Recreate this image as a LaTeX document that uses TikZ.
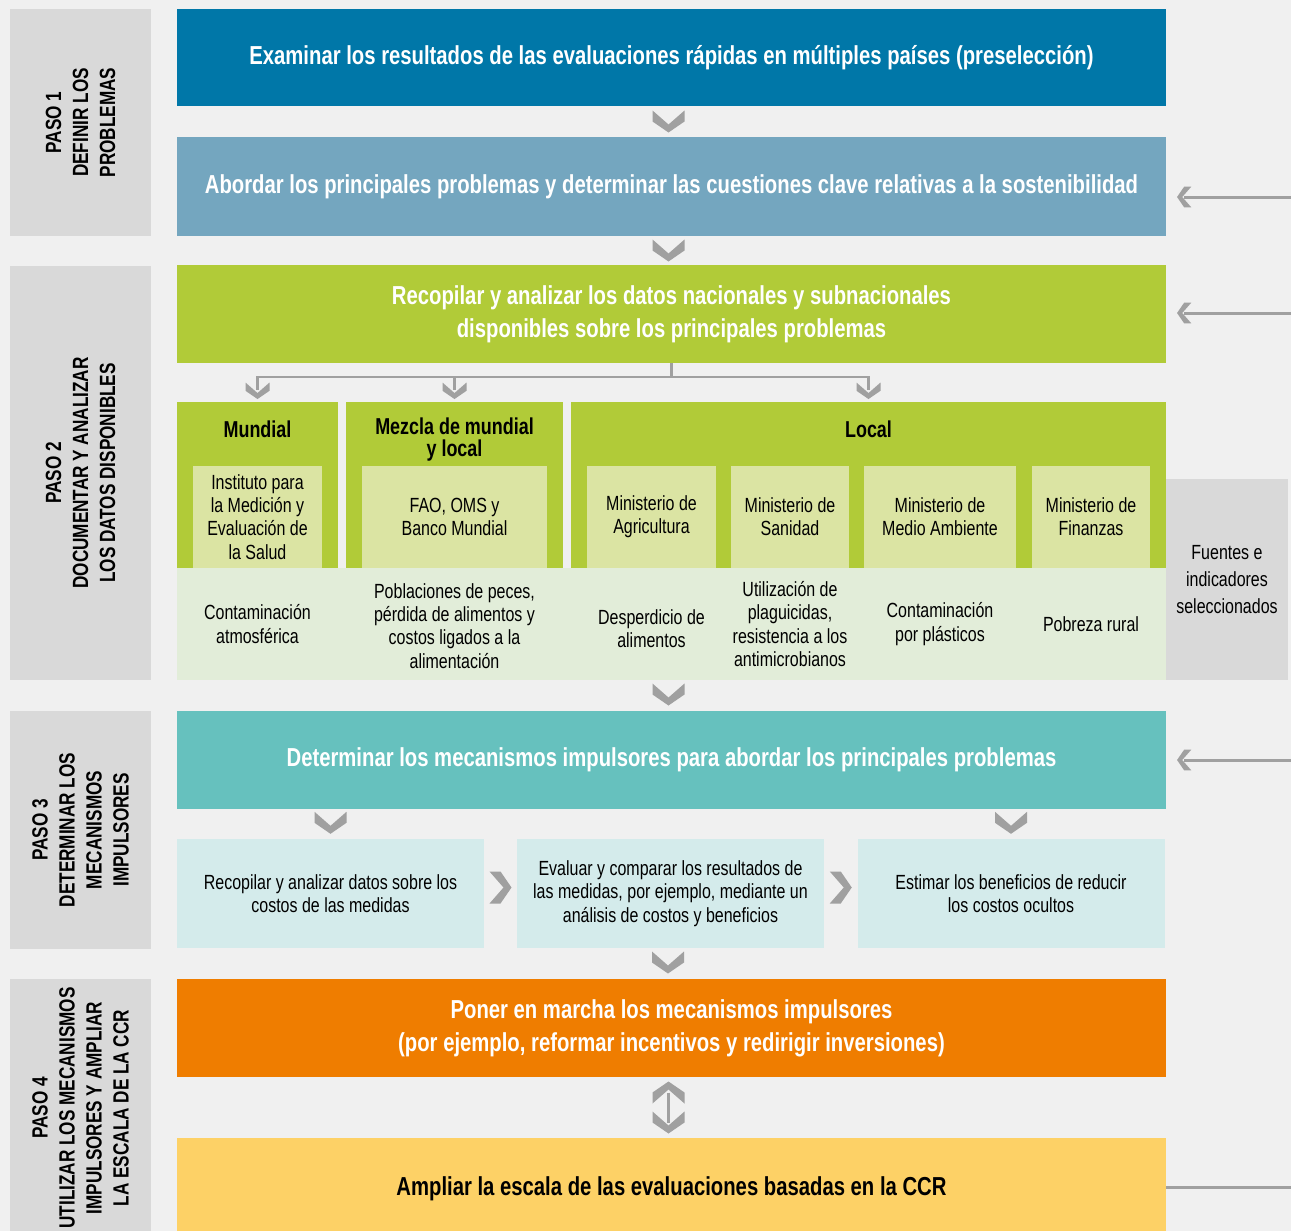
\documentclass[tikz,border=0pt]{standalone}
\usepackage{fontspec}
\setmainfont[FakeStretch=0.78]{Liberation Sans}
\usetikzlibrary{calc}

\definecolor{bggray}{HTML}{F0F0F0}
\definecolor{stepgray}{HTML}{D9D9D9}
\definecolor{chevgray}{HTML}{A0A0A0}
\definecolor{blueA}{HTML}{0077A8}
\definecolor{blueB}{HTML}{74A6BF}
\definecolor{greenA}{HTML}{B1CB38}
\definecolor{greenB}{HTML}{DBE4A3}
\definecolor{greenC}{HTML}{E2EDD9}
\definecolor{tealA}{HTML}{66C1BE}
\definecolor{tealB}{HTML}{D4EBEB}
\definecolor{orangeA}{HTML}{EF7D00}
\definecolor{yellowA}{HTML}{FDD166}

\newcommand\ttlfnt{\bfseries\fontsize{26}{33}\selectfont}
\newcommand\headfnt{\bfseries\fontsize{23}{22}\selectfont}
\newcommand\bodyfnt{\fontsize{20.5}{23.3}\selectfont}
\newcommand\srcfnt{\fontsize{20.5}{27}\selectfont}
\newcommand\stepfnt{\bfseries\fontsize{22}{27}\selectfont}

\tikzset{
  mainbox/.style={minimum width=989pt, minimum height=98pt, inner sep=0pt,
    text=white, font=\ttlfnt, align=center},
  stepbox/.style={fill=stepgray, minimum width=141pt, inner sep=0pt},
  steptext/.style={rotate=90, font=\stepfnt, align=center},
  groupbox/.style={fill=greenA, minimum height=166pt, inner sep=0pt},
  srcbox/.style={fill=greenB, minimum height=102pt, inner sep=0pt, font=\bodyfnt, align=center},
  lbl/.style={font=\bodyfnt, align=center, inner sep=0pt},
  head/.style={font=\headfnt, align=center, inner sep=0pt},
  subbox/.style={fill=tealB, minimum width=307pt, minimum height=109pt, inner sep=0pt,
    font=\bodyfnt, align=center},
  chevdown/.pic={\fill[chevgray] (-16,-11) -- (0,3) -- (16,-11) -- (16,0) -- (0,11) -- (-16,0) -- cycle;},
  branch/.style={draw=chevgray, line width=2.5pt},
  fbline/.style={draw=chevgray, line width=3pt}
}

\begin{document}
\begin{tikzpicture}[x=1pt, y=-1pt]
  \fill[bggray] (0,0) rectangle (1291,1231);
  \useasboundingbox (0,0) rectangle (1291,1231);

  \node[stepbox, minimum height=227pt] (paso1) at (80.5,122.5) {};
  \node[steptext] at (paso1) {PASO 1\\DEFINIR LOS\\PROBLEMAS};
  \node[stepbox, minimum height=414pt] (paso2) at (80.5,473) {};
  \node[steptext] at (paso2) {PASO 2\\DOCUMENTAR Y ANALIZAR\\LOS DATOS DISPONIBLES};
  \node[stepbox, minimum height=238pt] (paso3) at (80.5,830) {};
  \node[steptext] at (paso3) {PASO 3\\DETERMINAR LOS\\MECANISMOS\\IMPULSORES};
  \node[stepbox, minimum height=252pt] (paso4) at (80.5,1105) {};
  \node[steptext] at (80.5,1108) {PASO 4\\UTILIZAR LOS MECANISMOS\\IMPULSORES Y AMPLIAR\\LA ESCALA DE LA CCR};

  \node[mainbox, fill=blueA, minimum height=97pt] (examinar) at (671.5,57.5)
    {Examinar los resultados de las evaluaciones rápidas en múltiples países (preselección)};
  \node[mainbox, fill=blueB, minimum height=99pt] (abordar) at (671.5,186.5)
    {Abordar los principales problemas y determinar las cuestiones clave relativas a la sostenibilidad};
  \node[mainbox, fill=greenA] (recopilar) at (671.5,314)
    {Recopilar y analizar los datos nacionales y subnacionales\\disponibles sobre los principales problemas};

  \node[groupbox, minimum width=161pt] (mundial) at (257.5,485) {};
  \node[groupbox, minimum width=217pt] (mezcla) at (454.5,485) {};
  \node[groupbox, minimum width=595pt] (local) at (868.5,485) {};
  \node[head] at (257.5,429) {Mundial};
  \node[head] at (454.5,440) {Mezcla de mundial\\y local};
  \node[head] at (868.5,429) {Local};

  \node[srcbox, minimum width=129pt] (ihme) at (257.5,517) {Instituto para\\la Medición y\\Evaluación de\\la Salud};
  \node[srcbox, minimum width=185pt] (fao) at (454.5,517) {FAO, OMS y\\Banco Mundial};
  \node[srcbox, minimum width=129pt] (agri) at (651.5,517) {Ministerio de\\Agricultura};
  \node[srcbox, minimum width=118pt] (sanidad) at (790,517) {Ministerio de\\Sanidad};
  \node[srcbox, minimum width=152pt] (medio) at (940,517) {Ministerio de\\Medio Ambiente};
  \node[srcbox, minimum width=118pt] (finanzas) at (1091,517) {Ministerio de\\Finanzas};

  \node[fill=greenC, minimum width=989pt, minimum height=112pt, inner sep=0pt] (banda) at (671.5,624) {};
  \node[lbl] (aire) at (257.5,624) {Contaminación\\atmosférica};
  \node[lbl] (peces) at (454.5,626) {Poblaciones de peces,\\pérdida de alimentos y\\costos ligados a la\\alimentación};
  \node[lbl] (desperdicio) at (651.5,629) {Desperdicio de\\alimentos};
  \node[lbl] (plaguicidas) at (790,624) {Utilización de\\plaguicidas,\\resistencia a los\\antimicrobianos};
  \node[lbl] (plasticos) at (940,624) {Contaminación\\por plásticos};
  \node[lbl] (pobreza) at (1091,624) {Pobreza rural};
  \node[fill=stepgray, minimum width=122pt, minimum height=201pt, inner sep=0pt] (fuentes) at (1227,579.5) {};
  \node[lbl, font=\srcfnt] at (fuentes) {Fuentes e\\indicadores\\seleccionados};

  \node[mainbox, fill=tealA] (mecanismos) at (671.5,760)
    {Determinar los mecanismos impulsores para abordar los principales problemas};
  \node[subbox] (costos) at (330.5,893.5) {Recopilar y analizar datos sobre los\\costos de las medidas};
  \node[subbox] (evaluar) at (670.5,893.5) {Evaluar y comparar los resultados de\\las medidas, por ejemplo, mediante un\\análisis de costos y beneficios};
  \node[subbox] (estimar) at (1011,893.5) {Estimar los beneficios de reducir\\los costos ocultos};

  \node[mainbox, fill=orangeA] (poner) at (671.5,1028)
    {Poner en marcha los mecanismos impulsores\\(por ejemplo, reformar incentivos y redirigir inversiones)};
  \node[mainbox, fill=yellowA, minimum height=93pt] (ampliar) at (671.5,1184.5) {};
  \node[lbl, font=\ttlfnt] at (671.5,1189) {Ampliar la escala de las evaluaciones basadas en la CCR};

  \pic at ($(examinar.south)!0.5!(abordar.north)+(-3,0)$) {chevdown};
  \pic at ($(abordar.south)!0.5!(recopilar.north)+(-3,0)$) {chevdown};
  \pic at ($(banda.south)!0.5!(mecanismos.north)+(-3,-1)$) {chevdown};
  \pic at ($(costos.north)+(0,-16)$) {chevdown};
  \pic at ($(estimar.north)+(0,-16)$) {chevdown};
  \pic[rotate=90] at ($(costos.east)!0.5!(evaluar.west)+(0,-6)$) {chevdown};
  \pic[rotate=90] at ($(evaluar.east)!0.5!(estimar.west)+(0,-6)$) {chevdown};
  \pic at ($(evaluar.south)!0.5!(poner.north)+(-3,-1)$) {chevdown};

  \draw[branch] (recopilar.south) -- ++(0,14) -| ($(mundial.north)+(0,-12)$);
  \draw[branch] (recopilar.south) -- ++(0,14) -| ($(mezcla.north)+(0,-12)$);
  \draw[branch] (recopilar.south) -- ++(0,14) -| ($(local.north)+(0,-12)$);
  \pic[scale=0.75] at ($(mundial.north)+(0,-11)$) {chevdown};
  \pic[scale=0.75] at ($(mezcla.north)+(0,-11)$) {chevdown};
  \pic[scale=0.75] at ($(local.north)+(0,-11)$) {chevdown};

  \coordinate (doble) at ($(poner.south)!0.5!(ampliar.north)+(-3,0)$);
  \draw[fbline] ($(doble)+(0,-15)$) -- ($(doble)+(0,15)$);
  \pic[rotate=180] at ($(doble)+(0,-15)$) {chevdown};
  \pic at ($(doble)+(0,15)$) {chevdown};

  \coordinate (fb1) at (1291,197);
  \coordinate (fb2) at (1291,313);
  \coordinate (fb3) at (1291,760);
  \coordinate (fb4) at (1291,1187);
  \draw[fbline] (fb1) -- ($(fb1 -| abordar.east)+(18,0)$);
  \draw[fbline] (fb2) -- ($(fb2 -| recopilar.east)+(18,0)$);
  \draw[fbline] (fb3) -- ($(fb3 -| mecanismos.east)+(18,0)$);
  \draw[fbline] (fb4) -- (fb4 -| ampliar.east);
  \pic[rotate=-90, scale=0.65] at ($(fb1 -| abordar.east)+(18,0)$) {chevdown};
  \pic[rotate=-90, scale=0.65] at ($(fb2 -| recopilar.east)+(18,0)$) {chevdown};
  \pic[rotate=-90, scale=0.65] at ($(fb3 -| mecanismos.east)+(18,0)$) {chevdown};
\end{tikzpicture}
\end{document}
